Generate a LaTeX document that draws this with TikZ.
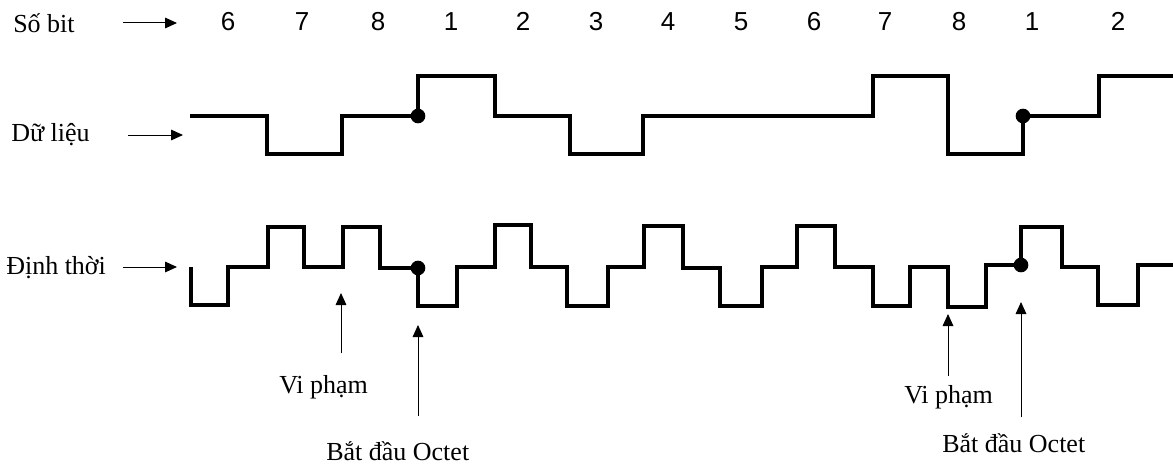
\documentclass[tikz,border=0pt]{standalone}
\usepackage{fontspec}
\setmainfont{Liberation Serif}
\newfontfamily\digitfont{Liberation Sans}
\usetikzlibrary{arrows.meta}

\tikzset{
  wave/.style={line width=2.3pt},
  arr/.style={line width=0.75pt,-{Triangle[length=9pt,width=8pt]}},
  lbl/.style={font=\fontsize{19.5}{23}\selectfont,inner sep=0pt,anchor=base west},
  num/.style={font=\digitfont\fontsize{19.5}{23}\selectfont,inner sep=0pt,anchor=base},
}

\begin{document}
\begin{tikzpicture}[x=0.75pt,y=-0.75pt]
\useasboundingbox (0,0) rectangle (1173,467);

% Row labels
\node[lbl] (sobit) at (13,33) {Số bit};
\node[lbl] (dulieu) at (11,141) {Dữ liệu};
\node[lbl] (dinhthoi) at (6,274) {Định thời};

% Row arrows
\coordinate (sobitA) at (123,23);
\coordinate (sobitB) at (177,23);
\coordinate (dulieuA) at (128,135);
\coordinate (dulieuB) at (183,135);
\coordinate (dinhthoiA) at (123,267);
\coordinate (dinhthoiB) at (177,267);
\draw[arr] (sobitA) -- (sobitB);
\draw[arr] (dulieuA) -- (dulieuB);
\draw[arr] (dinhthoiA) -- (dinhthoiB);

% Bit numbers
\foreach \x/\n [count=\i] in {228/6,302/7,378/8,451/1,523/2,596/3,668/4,741/5,814/6,885/7,959/8,1032/1,1118/2} {
  \node[num] (bit\i) at (\x,31) {\n};
}

% Data
\draw[wave] (190,116) -| (267,154) -| (342,116) -| (418,76) -| (495,116)
  -| (570,154) -| (643,116) -| (873,76) -| (948,154) -| (1023,116)
  -| (1099,76) -- (1173,76);

% Timing
\draw[wave] (191,267) -- (191,305) -| (228,267) -| (268,227) -| (304,267)
  -| (343,227) -| (380,268) -| (418,306) -| (457,267) -| (495,225)
  -| (531,267) -| (567,306) -| (608,267) -| (644,226) -| (683,268)
  -| (720,306) -| (762,267) -| (797,226) -| (835,267) -| (873,306)
  -| (910,267) -| (948,307) -| (986,265) -| (1021,227) -| (1062,267)
  -| (1098,305) -| (1138,265) -- (1173,265);

% Octet start dots
\fill (418,116) circle (5.5pt);
\fill (1023,116) circle (5.5pt);
\fill (418,268) circle (5.5pt);
\fill (1021,265) circle (5.5pt);

% Violation markers
\coordinate (vpA) at (341,353);
\coordinate (vpAtip) at (341,293);
\coordinate (vpB) at (948,376);
\coordinate (vpBtip) at (948,314);
\draw[arr] (vpA) -- (vpAtip);
\draw[arr] (vpB) -- (vpBtip);
\node[lbl] (vipham1) at (279,393) {Vi phạm};
\node[lbl] (vipham2) at (904,403) {Vi phạm};

% Octet markers
\coordinate (octA) at (418,416);
\coordinate (octAtip) at (418,325);
\coordinate (octB) at (1021,417);
\coordinate (octBtip) at (1021,302);
\draw[arr] (octA) -- (octAtip);
\draw[arr] (octB) -- (octBtip);
\node[lbl] (octet1) at (326,460) {Bắt đầu Octet};
\node[lbl] (octet2) at (942,452) {Bắt đầu Octet};

\end{tikzpicture}
\end{document}
